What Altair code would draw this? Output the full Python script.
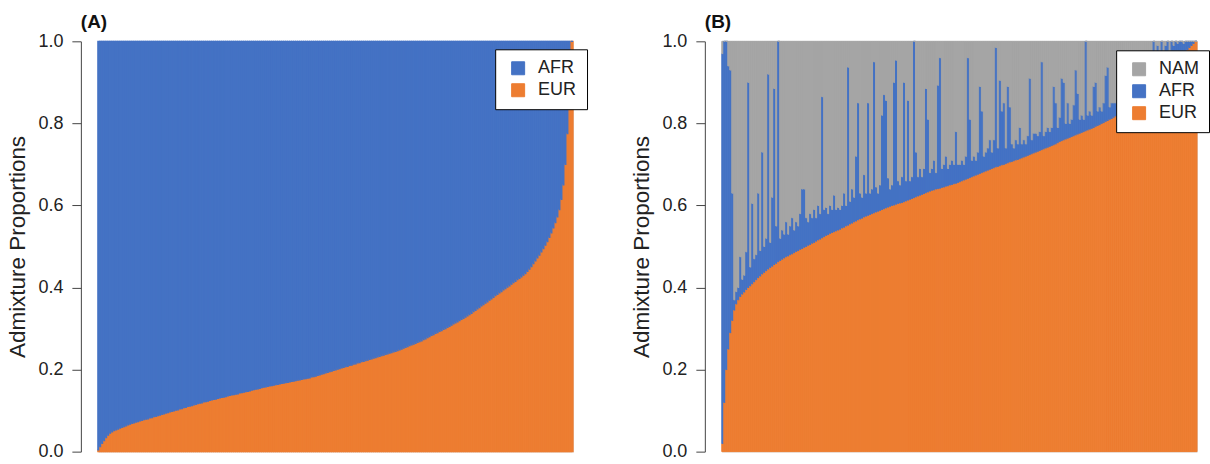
import altair as alt
import pandas as pd

# ---------------------------------------------------------------
# Panel A: two-way admixture (AFR / EUR), individuals sorted by EUR
# ---------------------------------------------------------------
eur_a = [
    0.004, 0.012, 0.020, 0.027, 0.034, 0.040, 0.045, 0.048, 0.051, 0.053,
    0.055, 0.057, 0.059, 0.061, 0.063, 0.065, 0.067, 0.069, 0.070, 0.072,
    0.073, 0.075, 0.076, 0.078, 0.079, 0.080, 0.082, 0.083, 0.085, 0.086,
    0.088, 0.089, 0.091, 0.092, 0.094, 0.095, 0.097, 0.098, 0.099, 0.101,
    0.102, 0.104, 0.105, 0.107, 0.108, 0.110, 0.111, 0.112, 0.114, 0.115,
    0.117, 0.118, 0.119, 0.121, 0.122, 0.123, 0.125, 0.126, 0.127, 0.128,
    0.130, 0.131, 0.132, 0.133, 0.134, 0.136, 0.137, 0.138, 0.139, 0.140,
    0.141, 0.143, 0.144, 0.145, 0.146, 0.147, 0.148, 0.150, 0.151, 0.152,
    0.153, 0.154, 0.156, 0.157, 0.158, 0.159, 0.160, 0.161, 0.162, 0.163,
    0.164, 0.165, 0.166, 0.167, 0.168, 0.169, 0.170, 0.171, 0.172, 0.173,
    0.174, 0.175, 0.176, 0.177, 0.178, 0.179, 0.180, 0.182, 0.183, 0.184,
    0.186, 0.187, 0.189, 0.190, 0.192, 0.193, 0.195, 0.196, 0.198, 0.199,
    0.201, 0.202, 0.204, 0.205, 0.207, 0.208, 0.210, 0.211, 0.213, 0.214,
    0.216, 0.217, 0.219, 0.220, 0.222, 0.223, 0.225, 0.226, 0.228, 0.229,
    0.231, 0.232, 0.234, 0.235, 0.237, 0.238, 0.240, 0.241, 0.243, 0.244,
    0.246, 0.248, 0.250, 0.252, 0.254, 0.256, 0.258, 0.260, 0.262, 0.264,
    0.266, 0.268, 0.270, 0.273, 0.275, 0.278, 0.280, 0.283, 0.285, 0.288,
    0.290, 0.293, 0.295, 0.298, 0.300, 0.303, 0.305, 0.308, 0.311, 0.314,
    0.316, 0.319, 0.322, 0.325, 0.328, 0.331, 0.334, 0.337, 0.341, 0.344,
    0.348, 0.351, 0.355, 0.358, 0.362, 0.365, 0.369, 0.372, 0.376, 0.380,
    0.383, 0.387, 0.390, 0.394, 0.397, 0.401, 0.404, 0.408, 0.412, 0.415,
    0.419, 0.422, 0.426, 0.430, 0.434, 0.439, 0.445, 0.451, 0.458, 0.465,
    0.472, 0.479, 0.487, 0.495, 0.503, 0.512, 0.522, 0.533, 0.545, 0.558,
    0.572, 0.590, 0.615, 0.650, 0.700, 0.775, 0.850, 1.000,
]

# ---------------------------------------------------------------
# Panel B: three-way admixture (NAM / AFR / EUR), sorted by EUR
# ---------------------------------------------------------------
eur_b = [
    0.020, 0.120, 0.200, 0.250, 0.290, 0.320, 0.345, 0.360, 0.370, 0.378,
    0.384, 0.389, 0.395, 0.400, 0.404, 0.409, 0.414, 0.419, 0.424, 0.428,
    0.433, 0.437, 0.441, 0.445, 0.449, 0.452, 0.456, 0.459, 0.463, 0.466,
    0.469, 0.472, 0.475, 0.477, 0.480, 0.482, 0.485, 0.488, 0.490, 0.493,
    0.495, 0.498, 0.500, 0.503, 0.505, 0.508, 0.510, 0.513, 0.516, 0.518,
    0.521, 0.524, 0.527, 0.529, 0.532, 0.534, 0.536, 0.538, 0.540, 0.542,
    0.545, 0.547, 0.550, 0.552, 0.555, 0.557, 0.560, 0.562, 0.565, 0.567,
    0.569, 0.572, 0.574, 0.576, 0.578, 0.580, 0.582, 0.584, 0.586, 0.588,
    0.590, 0.592, 0.594, 0.596, 0.598, 0.600, 0.601, 0.603, 0.605, 0.606,
    0.607, 0.609, 0.611, 0.613, 0.615, 0.617, 0.619, 0.621, 0.623, 0.625,
    0.627, 0.629, 0.631, 0.633, 0.635, 0.637, 0.638, 0.640, 0.641, 0.642,
    0.644, 0.645, 0.647, 0.648, 0.650, 0.651, 0.653, 0.654, 0.656, 0.658,
    0.660, 0.662, 0.664, 0.666, 0.668, 0.670, 0.672, 0.674, 0.676, 0.678,
    0.680, 0.682, 0.684, 0.686, 0.688, 0.690, 0.692, 0.694, 0.695, 0.697,
    0.699, 0.700, 0.702, 0.704, 0.706, 0.707, 0.709, 0.711, 0.712, 0.714,
    0.716, 0.718, 0.720, 0.722, 0.724, 0.726, 0.728, 0.730, 0.732, 0.734,
    0.736, 0.738, 0.740, 0.742, 0.744, 0.746, 0.748, 0.750, 0.753, 0.756,
    0.758, 0.760, 0.762, 0.764, 0.766, 0.768, 0.770, 0.772, 0.774, 0.776,
    0.778, 0.780, 0.782, 0.784, 0.786, 0.788, 0.790, 0.793, 0.795, 0.797,
    0.800, 0.802, 0.805, 0.807, 0.810, 0.812, 0.815, 0.818, 0.821, 0.824,
    0.827, 0.830, 0.833, 0.836, 0.840, 0.844, 0.848, 0.852, 0.856, 0.860,
    0.864, 0.869, 0.874, 0.879, 0.884, 0.889, 0.894, 0.899, 0.904, 0.909,
    0.914, 0.919, 0.924, 0.929, 0.934, 0.939, 0.944, 0.949, 0.954, 0.959,
    0.964, 0.969, 0.975, 0.980, 0.985, 0.990, 0.995, 1.000,
]

afr_b = [
    0.950, 0.880, 0.800, 0.690, 0.640, 0.310, 0.025, 0.030, 0.030, 0.097,
    0.036, 0.041, 0.092, 0.500, 0.046, 0.196, 0.056, 0.061, 0.206, 0.062,
    0.297, 0.063, 0.079, 0.475, 0.061, 0.168, 0.429, 0.091, 0.537, 0.054,
    0.071, 0.058, 0.085, 0.053, 0.070, 0.088, 0.055, 0.072, 0.060, 0.087,
    0.145, 0.142, 0.070, 0.057, 0.075, 0.062, 0.080, 0.057, 0.084, 0.062,
    0.344, 0.066, 0.068, 0.051, 0.068, 0.056, 0.089, 0.052, 0.055, 0.048,
    0.055, 0.083, 0.050, 0.385, 0.055, 0.083, 0.060, 0.158, 0.285, 0.063,
    0.051, 0.103, 0.056, 0.274, 0.052, 0.060, 0.368, 0.061, 0.044, 0.062,
    0.230, 0.278, 0.262, 0.071, 0.042, 0.050, 0.299, 0.351, 0.055, 0.044,
    0.063, 0.291, 0.049, 0.243, 0.045, 0.053, 0.381, 0.109, 0.047, 0.065,
    0.043, 0.061, 0.254, 0.177, 0.045, 0.053, 0.072, 0.040, 0.252, 0.318,
    0.046, 0.055, 0.073, 0.042, 0.050, 0.059, 0.047, 0.126, 0.044, 0.042,
    0.050, 0.038, 0.056, 0.294, 0.142, 0.040, 0.048, 0.036, 0.054, 0.212,
    0.150, 0.038, 0.046, 0.054, 0.072, 0.040, 0.068, 0.291, 0.045, 0.208,
    0.131, 0.150, 0.038, 0.186, 0.134, 0.043, 0.031, 0.049, 0.038, 0.076,
    0.034, 0.042, 0.030, 0.048, 0.186, 0.034, 0.048, 0.046, 0.038, 0.046,
    0.214, 0.032, 0.040, 0.048, 0.036, 0.044, 0.142, 0.100, 0.037, 0.059,
    0.152, 0.140, 0.038, 0.086, 0.034, 0.042, 0.075, 0.158, 0.099, 0.034,
    0.042, 0.030, 0.218, 0.036, 0.044, 0.032, 0.100, 0.107, 0.035, 0.043,
    0.030, 0.048, 0.112, 0.130, 0.030, 0.038, 0.035, 0.032, 0.039, 0.036,
    0.043, 0.030, 0.037, 0.044, 0.030, 0.036, 0.042, 0.028, 0.044, 0.030,
    0.036, 0.041, 0.036, 0.041, 0.036, 0.041, 0.106, 0.041, 0.086, 0.041,
    0.086, 0.041, 0.066, 0.071, 0.036, 0.061, 0.046, 0.051, 0.041, 0.041,
    0.036, 0.026, 0.025, 0.020, 0.015, 0.010, 0.005, 0.000,
]

POP_COLORS = {"EUR": "#ED7D31", "AFR": "#4472C4", "NAM": "#A5A5A5"}
FONT = "Liberation Sans"


def stack_table(components, bottom_to_top):
    """Long table of stacked segments (one row per individual and population)."""
    n = len(components[bottom_to_top[0]])
    rows = []
    for i in range(n):
        lo = 0.0
        for pop in bottom_to_top:
            hi = min(lo + components[pop][i], 1.0)
            rows.append({"idx": i, "idx_end": i + 1, "pop": pop, "lo": lo, "hi": hi})
            lo = hi
    return pd.DataFrame(rows)


# Panel A: EUR at the bottom, AFR makes up the rest
table_a = stack_table(
    {"EUR": eur_a, "AFR": [1.0 - e for e in eur_a]},
    ["EUR", "AFR"],
)
# Panel B: EUR, then AFR, NAM is the remainder up to 1
nam_b = [max(0.0, 1.0 - e - a) for e, a in zip(eur_b, afr_b)]
table_b = stack_table(
    {"EUR": eur_b, "AFR": afr_b, "NAM": nam_b},
    ["EUR", "AFR", "NAM"],
)


def panel(table, n_ind, legend_order, label, legend_x, legend_y, seam_width):
    y_axis = alt.Axis(
        values=[0.0, 0.2, 0.4, 0.6, 0.8, 1.0],
        format=".1f",
        grid=False,
        offset=17,
        tickSize=9,
        tickColor="#444444",
        domainColor="#444444",
        labelPadding=9,
        labelFont=FONT,
        labelFontSize=18,
        labelColor="#222222",
        labelFlush=False,
        titleFont=FONT,
        titleFontSize=22.5,
        titleFontWeight="normal",
        titleColor="#222222",
        titlePadding=8,
    )
    legend = alt.Legend(
        title=None,
        orient="none",
        legendX=legend_x,
        legendY=legend_y,
        direction="vertical",
        symbolType="square",
        symbolSize=169,
        symbolStrokeColor="#000000",
        symbolStrokeWidth=1,
        symbolOffset=4,
        labelFont=FONT,
        labelFontSize=18,
        labelColor="#222222",
        labelOffset=11,
        rowPadding=4,
        padding=10,
        strokeColor="#000000",
        fillColor="#FFFFFF",
        cornerRadius=0,
    )
    pop_scale = alt.Scale(
        domain=legend_order,
        range=[POP_COLORS[p] for p in legend_order],
    )
    y_enc = alt.Y(
        "lo:Q",
        scale=alt.Scale(domain=[0, 1], nice=False),
        axis=y_axis,
        title="Admixture Proportions",
    )
    base = alt.Chart(
        table,
        title=alt.TitleParams(
            label,
            anchor="start",
            frame="group",
            dx=-17,
            offset=0,
            font=FONT,
            fontSize=19,
            fontWeight="bold",
            color="#111111",
        ),
    )
    # Legend carrier: outlined squares keyed to the population colours
    key = (
        base.transform_filter("false")
        .mark_square(filled=True, stroke="#000000", strokeWidth=1, opacity=1)
        .encode(
            y=y_enc,
            color=alt.Color("pop:N", scale=pop_scale, legend=legend),
        )
    )
    # One stacked column per individual; a hairline in the fill colour
    # closes the anti-aliasing gaps between neighbouring columns
    bars = base.mark_rect(strokeWidth=seam_width).encode(
        x=alt.X(
            "idx:Q",
            scale=alt.Scale(domain=[0, n_ind], nice=False, zero=True),
            axis=None,
        ),
        x2="idx_end:Q",
        y=y_enc,
        y2="hi:Q",
        color=alt.Color("pop:N", scale=pop_scale, legend=None),
        stroke=alt.Stroke("pop:N", scale=pop_scale, legend=None),
    )
    return alt.layer(key, bars).properties(width=476, height=411)


chart_a = panel(table_a, len(eur_a), ["AFR", "EUR"], "(A)", 398, 8, 1.2)
chart_b = panel(table_b, len(eur_b), ["NAM", "AFR", "EUR"], "(B)", 395, 9, 1.0)

chart = (
    alt.hconcat(chart_a, chart_b, spacing=149, bounds="flush")
    .resolve_scale(color="independent", stroke="independent")
    .properties(padding={"left": 6, "top": 12, "right": 0, "bottom": 0})
    .configure_view(stroke=None)
    .configure(background="#FFFFFF")
)

chart.save("out.html", embed_options={"renderer": "svg", "actions": False})
